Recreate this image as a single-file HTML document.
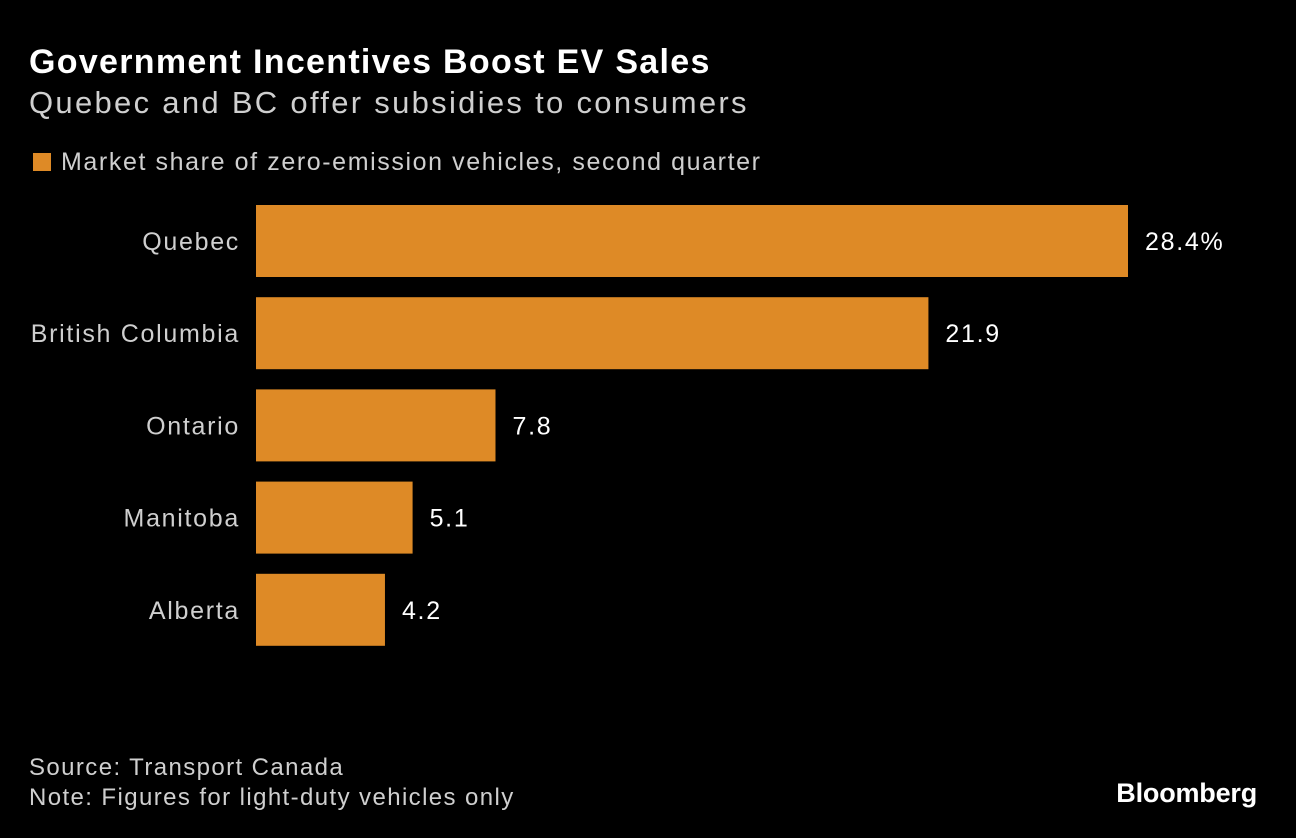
<!DOCTYPE html>
<html>
<head>
<meta charset="utf-8">
<style>
  html,body{margin:0;padding:0;background:#000;}
  body{width:1296px;height:838px;position:relative;overflow:hidden;font-family:"Liberation Sans",Arial,sans-serif;}
  .t{position:absolute;white-space:nowrap;}
</style>
</head>
<body>
<div class="t" style="left:29px;top:43px;font-size:34px;font-weight:bold;color:#fff;letter-spacing:1.3px;">Government Incentives Boost EV Sales</div>
<div class="t" style="left:29px;top:85px;font-size:31px;color:#cfcfcf;letter-spacing:2.3px;">Quebec and BC offer subsidies to consumers</div>
<div class="t" style="left:33px;top:148px;font-size:25px;color:#cfcfcf;letter-spacing:1.6px;">
  <span style="display:inline-block;width:18px;height:18px;background:#DE8A26;vertical-align:-1px;margin-right:10px;"></span>Market share of zero-emission vehicles, second quarter</div>
<svg id="chart" width="1296" height="838" style="position:absolute;left:0;top:0;"></svg>
<div class="t" style="left:29px;top:754px;font-size:24px;color:#cfcfcf;letter-spacing:1.4px;">Source: Transport Canada</div>
<div class="t" style="left:29px;top:784px;font-size:24px;color:#cfcfcf;letter-spacing:1.4px;">Note: Figures for light-duty vehicles only</div>
<div class="t" style="right:39px;top:778px;font-size:27px;font-weight:bold;color:#fff;letter-spacing:-0.2px;">Bloomberg</div>
<script>
const categories = ["Quebec","British Columbia","Ontario","Manitoba","Alberta"];
const values = [28.4, 21.9, 7.8, 5.1, 4.2];
const valueLabels = ["28.4%","21.9","7.8","5.1","4.2"];

const svg = document.getElementById('chart');
const NS = 'http://www.w3.org/2000/svg';
const x0 = 256, pxPerUnit = 872/28.4;
const y0 = 205, pitch = 92.2, barH = 72;
function xScale(v){ return x0 + v*pxPerUnit; }
function yScale(i){ return y0 + i*pitch; }

categories.forEach((c,i)=>{
  const y = yScale(i);
  const r = document.createElementNS(NS,'rect');
  r.setAttribute('x', x0);
  r.setAttribute('y', y);
  r.setAttribute('width', xScale(values[i]) - x0);
  r.setAttribute('height', barH);
  r.setAttribute('fill', '#DE8A26');
  
  
  svg.appendChild(r);

  const lab = document.createElementNS(NS,'text');
  lab.setAttribute('x', 240);
  lab.setAttribute('y', y + barH/2 + 9);
  lab.setAttribute('text-anchor', 'end');
  lab.setAttribute('fill', '#cfcfcf');
  lab.setAttribute('font-size', '25');
  lab.setAttribute('letter-spacing', '1.7');
  lab.setAttribute('font-family', 'Liberation Sans, Arial, sans-serif');
  lab.textContent = c;
  
  
  svg.appendChild(lab);

  const vl = document.createElementNS(NS,'text');
  vl.setAttribute('x', xScale(values[i]) + 17);
  vl.setAttribute('y', y + barH/2 + 9);
  vl.setAttribute('fill', '#ffffff');
  vl.setAttribute('font-size', '25');
  vl.setAttribute('letter-spacing', '1.7');
  vl.setAttribute('font-family', 'Liberation Sans, Arial, sans-serif');
  vl.textContent = valueLabels[i];
  
  
  svg.appendChild(vl);
});
</script>
</body>
</html>
